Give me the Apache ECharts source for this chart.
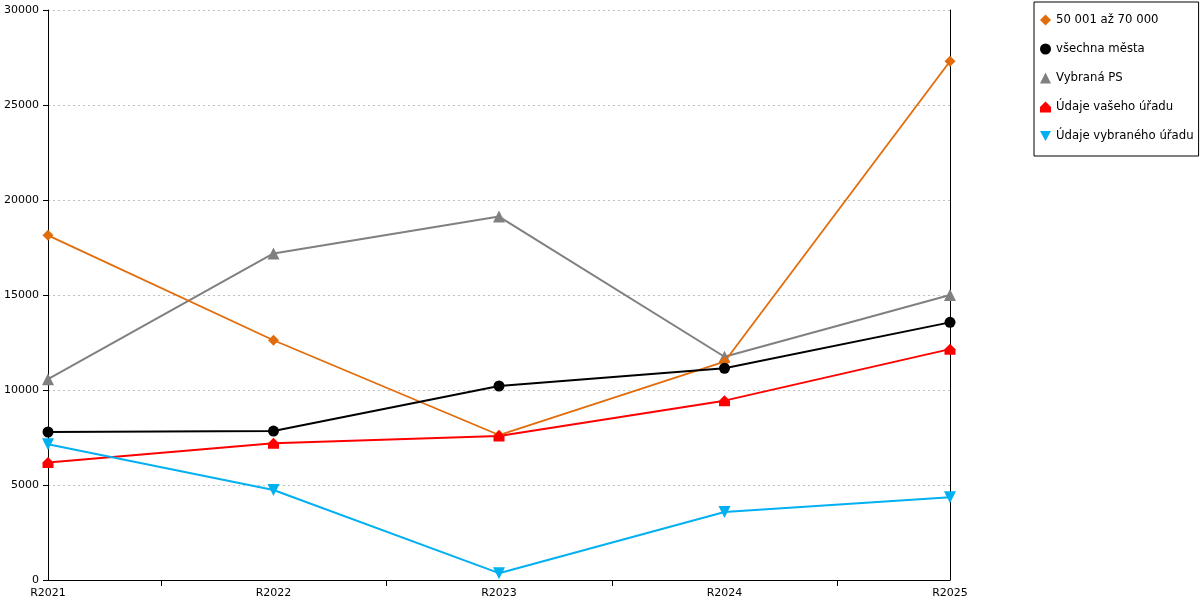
<!DOCTYPE html>
<html>
<head>
<meta charset="utf-8">
<script src="https://cdn.jsdelivr.net/npm/echarts@6/dist/echarts.min.js"></script>
<style>html,body{margin:0;padding:0;background:#fff}#c{width:1200px;height:600px}</style>
</head>
<body>
<div id="c"></div>
<script>
const categories = ['R2021', 'R2022', 'R2023', 'R2024', 'R2025'];
const seriesNames = ['50 001 až 70 000', 'všechna města', 'Vybraná PS', 'Údaje vašeho úřadu', 'Údaje vybraného úřadu'];
const orangeValues = [18140, 12620, 7630, 11490, 27300];
const blackValues = [7790, 7840, 10210, 11140, 13560];
const grayValues = [10570, 17190, 19130, 11750, 15000];
const redValues = [6180, 7195, 7580, 9440, 12150];
const blueValues = [7140, 4740, 360, 3580, 4350];
const yTicks = { min: 0, max: 30000, interval: 5000 };

const font = 'DejaVu Sans';
const house = 'path://M5,0 L10,5 L10,10 L0,10 L0,5 Z';
const downTri = 'path://M0,0 L10,0 L5,9 Z';

const chart = echarts.init(document.getElementById('c'), null, { renderer: 'canvas' });
function mk(name, data, color, symbol, size, width) {
  return {
    name, type: 'line', data, xAxisIndex: 0, yAxisIndex: 0,
    symbol, symbolSize: size, showAllSymbol: true,
    lineStyle: { color, width },
    itemStyle: { color, borderWidth: 0 },
    emphasis: { disabled: true },
    animation: false
  };
}
chart.setOption({
  animation: false,
  backgroundColor: '#fff',
  grid: { left: 48, right: 250, top: 10, bottom: 20, containLabel: false },
  legend: {
    orient: 'vertical', left: 1034, top: 2,
    padding: [11, 5, 13, 6],
    itemGap: 15, itemWidth: 11, itemHeight: 11,
    borderColor: '#000', borderWidth: 1,
    textStyle: { fontFamily: font, fontSize: 11.7, color: '#000', lineHeight: 14 },
    data: [
      { name: seriesNames[0], icon: 'diamond', itemStyle: { color: '#E36C0A' } },
      { name: seriesNames[1], icon: 'circle', itemStyle: { color: '#000' } },
      { name: seriesNames[2], icon: 'triangle', itemStyle: { color: '#808080' } },
      { name: seriesNames[3], icon: house, itemStyle: { color: '#FF0000' } },
      { name: seriesNames[4], icon: downTri, itemStyle: { color: '#00B0F0' } }
    ]
  },
  xAxis: [
    {
      type: 'category', data: categories, boundaryGap: false,
      axisLine: { lineStyle: { color: '#000', width: 1 } },
      axisTick: { show: false },
      axisLabel: { fontFamily: font, fontSize: 11, color: '#000', margin: 8 },
      splitLine: { show: false }
    },
    {
      type: 'category', data: ['', '', '', ''], boundaryGap: true, position: 'bottom',
      axisLine: { show: false },
      axisTick: { show: true, alignWithLabel: true, length: 6, lineStyle: { color: '#000' } },
      axisLabel: { show: false },
      splitLine: { show: false }
    }
  ],
  yAxis: [
    {
      type: 'value', min: yTicks.min, max: yTicks.max, interval: yTicks.interval,
      axisLine: { show: true, lineStyle: { color: '#000', width: 1 } },
      axisTick: { show: true, length: 5, lineStyle: { color: '#000' } },
      axisLabel: { fontFamily: font, fontSize: 11, color: '#000', margin: 9, formatter: v => String(v) },
      splitLine: { show: true, lineStyle: { color: '#c0c0c0', type: [2, 3], width: 1 } }
    },
    {
      type: 'value', position: 'right', min: yTicks.min, max: yTicks.max, interval: yTicks.interval,
      axisLine: { show: true, lineStyle: { color: '#000', width: 1 } },
      axisTick: { show: false }, axisLabel: { show: false }, splitLine: { show: false }
    }
  ],
  series: [
    mk(seriesNames[2], grayValues, '#808080', 'triangle', 12, 2),
    mk(seriesNames[0], orangeValues, '#E36C0A', 'diamond', 11, 1.8),
    mk(seriesNames[1], blackValues, '#000000', 'circle', 11, 2),
    mk(seriesNames[3], redValues, '#FF0000', house, 11, 2),
    mk(seriesNames[4], blueValues, '#00B0F0', downTri, 12, 2)
  ]
});
</script>
</body>
</html>
